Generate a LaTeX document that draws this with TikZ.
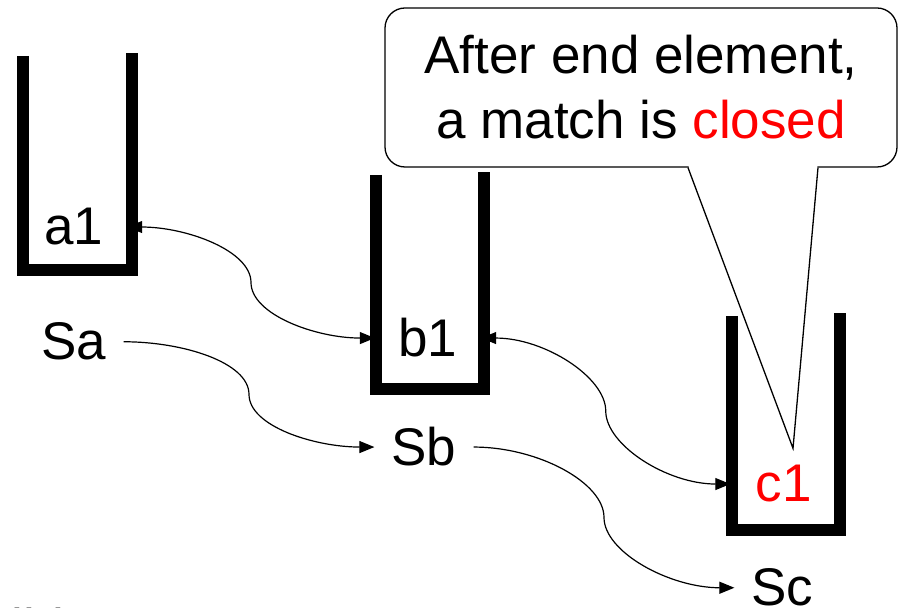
\documentclass[tikz,border=0pt]{standalone}
\usepackage{fontspec}
\setmainfont{Liberation Sans}
\usepackage{xcolor}
\usetikzlibrary{arrows.meta,calc,positioning}

\tikzset{
  stackwall/.style={line width=12pt},
  lbl/.style={font=\fontsize{53}{65}\selectfont, anchor=base, inner sep=17pt},
  slot/.style={lbl, minimum width=106pt},
  link/.style={line width=1.2pt},
  tip/.style={-{Triangle[length=15pt,width=12pt]}},
  twotip/.style={{Triangle[length=15pt,width=12pt]}-{Triangle[length=15pt,width=12pt]}},
  half1/.style={out=0,in=90,out looseness=1.12,in looseness=.6},
  half2/.style={out=-90,in=180,out looseness=.6,in looseness=1.12},
  notebox/.style={draw, line width=1.3pt, rounded corners=20pt, minimum width=512pt,
    minimum height=159pt, inner sep=0pt, align=center,
    font=\fontsize{53}{65}\selectfont}
}

\begin{document}
\begin{tikzpicture}[x=1pt,y=1pt]
  \useasboundingbox (0,0) rectangle (898,608);

  % stacks
  \foreach \xl/\xr/\yb/\yt in {23/131.5/338/553.5, 375.5/484/219/434.5, 731.5/840/78/293.5}
    \draw[stackwall] (\xl,\yt-1.5) -- (\xl,\yb) -- (\xr,\yb) -- (\xr,\yt+1.5);

  % entries and stack names
  \node[slot] (a1) at (74,363) {a1};
  \node[slot] (b1) at (428,251) {b1};
  \node[slot,text=red] (c1) at (783.5,106) {c1};
  \node[lbl] (Sa) at (74,248) {Sa};
  \node[lbl] (Sb) at (424,142) {Sb};
  \node[lbl] (Sc) at (782.5,2) {Sc};
  \node[lbl, anchor=base west, inner sep=0pt] (rest) at (11.5,-39) {ible};

  % links between entries
  \draw[link,twotip] (a1.east) to[half1] ($(a1.east)!.5!(b1.west)$) to[half2] (b1.west);
  \draw[link,twotip] (b1.east) to[half1] ($(b1.east)!.5!(c1.west)$) to[half2] (c1.west);
  \draw[link,tip] (Sa.east) to[half1] ($(Sa.east)!.5!(Sb.west)$) to[half2] (Sb.west);
  \draw[link,tip] (Sb.east) to[half1] ($(Sb.east)!.5!(Sc.west)$) to[half2] (Sc.west);

  % callout
  \node[notebox] (note) at (641,520.5) {After end element,\\a match is \textcolor{red}{closed}};
  \coordinate (point) at ([xshift=9.5pt]c1.north);
  \fill[white] ($(note.south)+(47.6,1.5)$) -- (point) -- ($(note.south)+(176.4,1.5)$) -- cycle;
  \draw[line width=1.3pt] ($(note.south)+(47,0)$) -- (point) -- ($(note.south)+(177,0)$);
\end{tikzpicture}
\end{document}
